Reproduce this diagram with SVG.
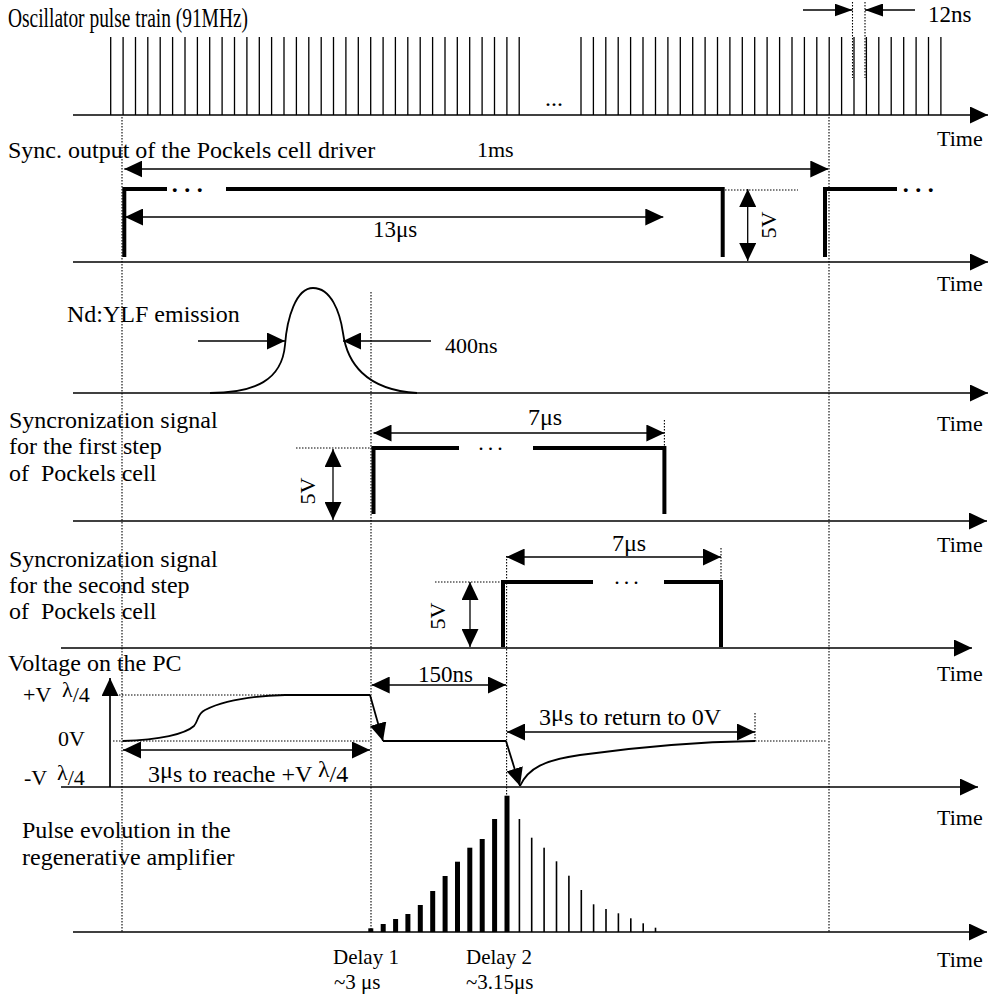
<svg xmlns="http://www.w3.org/2000/svg" width="989" height="994" viewBox="0 0 989 994">
<style>
text { font-family: "Liberation Serif", "Times New Roman", serif; fill: #000; }
.f21 { font-size: 21px; }
.f22 { font-size: 22px; }
.f23 { font-size: 23px; }
.f24 { font-size: 24px; }
.ax { stroke: #000; stroke-width: 1.7; fill: none; }
.tn { stroke: #000; stroke-width: 1.3; fill: none; }
.th { stroke: #000; stroke-width: 4; fill: none; stroke-linejoin: miter; }
.cv { stroke: #000; stroke-width: 1.8; fill: none; }
.dt { stroke: #000; stroke-width: 1.1; stroke-dasharray: 1.5 1.5; fill: none; }
.arr { marker-start: url(#ah); marker-end: url(#ah); }
.arre { marker-end: url(#ah); }
.arrs { marker-end: url(#ahs); }
.bd { font-weight: bold; }
</style>
<defs>
<marker id="ah" viewBox="0 0 18 17" refX="18" refY="8.5" markerWidth="18" markerHeight="17" markerUnits="userSpaceOnUse" orient="auto-start-reverse"><path d="M0,0 L18,8.5 L0,17 z" fill="#000"/></marker>
<marker id="ahs" viewBox="0 0 18 13" refX="18" refY="6.5" markerWidth="18" markerHeight="13" markerUnits="userSpaceOnUse" orient="auto-start-reverse"><path d="M0,0 L18,6.5 L0,13 z" fill="#000"/></marker>
</defs>

<g id="guides">
<path class="dt" d="M122,117 V932 M371,292 V932 M829,117 V932 M506.6,556 V796 M664.4,420 V448 M721,548 V582 M755,713 V741 M852.5,2 V78 M865,2 V78 M725,190 H798 M296,448 H372 M435,582 H502 M113,695 H370 M113,741 H370 M755,741 H827"/>
</g>

<g id="row-oscillator">
<text x="8" y="27" font-size="27" textLength="240" lengthAdjust="spacingAndGlyphs">Oscillator pulse train (91MHz)</text>
<path class="tn" d="M110.7,37V115 M123.1,37V115 M135.5,37V115 M147.8,37V115 M160.2,37V115 M172.6,37V115 M185,37V115 M197.4,37V115 M209.7,37V115 M222.1,37V115 M234.5,37V115 M246.9,37V115 M259.3,37V115 M271.6,37V115 M284,37V115 M296.4,37V115 M308.8,37V115 M321.2,37V115 M333.5,37V115 M345.9,37V115 M358.3,37V115 M370.7,37V115 M383.1,37V115 M395.4,37V115 M407.8,37V115 M420.2,37V115 M432.6,37V115 M445,37V115 M457.3,37V115 M469.7,37V115 M482.1,37V115 M494.5,37V115 M506.9,37V115 M519.2,37V115 M581,37V115 M593.4,37V115 M605.8,37V115 M618.2,37V115 M630.6,37V115 M643,37V115 M655.5,37V115 M667.9,37V115 M680.3,37V115 M692.7,37V115 M705.1,37V115 M717.5,37V115 M729.9,37V115 M742.3,37V115 M754.7,37V115 M767.1,37V115 M779.6,37V115 M792,37V115 M804.4,37V115 M816.8,37V115 M829.2,37V115 M841.6,37V115 M854,37V115 M866.4,37V115 M878.8,37V115 M891.2,37V115 M903.7,37V115 M916.1,37V115 M928.5,37V115 M940.9,37V115"/>
<text class="f24" x="545" y="106">...</text>
<line class="tn arrs" x1="803" y1="10" x2="852.5" y2="10"/>
<line class="tn arrs" x1="915" y1="10" x2="865" y2="10"/>
<text class="f23" x="928" y="22">12ns</text>
<line class="ax arre" x1="73" y1="115" x2="988" y2="115"/>
<text class="f22" x="937" y="146">Time</text>
</g>

<g id="row-sync-output">
<text class="f24" x="8" y="158">Sync. output of the Pockels cell driver</text>
<text class="f22" x="477" y="157">1ms</text>
<line class="tn arr" x1="124.3" y1="169" x2="828.3" y2="169"/>
<path class="th" d="M124.3,257 V189 H167 M226,189 H722.7 V257 M825,257 V189 H897"/>
<text class="f24 bd" x="171.8" y="192" letter-spacing="6.5">...</text>
<text class="f24 bd" x="902.7" y="192" letter-spacing="6.5">...</text>
<line class="tn arr" x1="125" y1="217" x2="663.3" y2="217"/>
<text class="f23" x="373" y="237">13μs</text>
<line class="tn arr" x1="747.7" y1="189" x2="747.7" y2="261"/>
<text class="f22" transform="translate(776,225) rotate(-90)" text-anchor="middle">5V</text>
<line class="ax arre" x1="73" y1="262" x2="988" y2="262"/>
<text class="f22" x="937" y="291">Time</text>
</g>

<g id="row-ndylf">
<text class="f24" x="67" y="322">Nd:YLF emission</text>
<path class="cv" d="M210,393 C255,393 282,380 285,345 C287,318 296,288 313,288 C331,288 340,312 343,333 C347,362 365,390 417,393"/>
<line class="tn arre" x1="198" y1="341" x2="285" y2="341"/>
<line class="tn arre" x1="431" y1="341" x2="343" y2="341"/>
<text class="f22" x="445" y="353">400ns</text>
<line class="ax arre" x1="73" y1="393" x2="988" y2="393"/>
<text class="f22" x="937" y="431">Time</text>
</g>

<g id="row-sync1">
<text class="f24" x="9" y="428">Syncronization signal</text>
<text class="f24" x="9" y="454">for the first step</text>
<text class="f24" x="9" y="481" xml:space="preserve">of  Pockels cell</text>
<line class="tn arr" x1="373.5" y1="433" x2="664.4" y2="433"/>
<text class="f24" x="528" y="425">7μs</text>
<path class="th" d="M373.5,514 V448 H459 M533,448 H664.4 V514"/>
<text class="f22" x="478.3" y="450" letter-spacing="4">...</text>
<line class="tn arr" x1="333" y1="449" x2="333" y2="520"/>
<text class="f22" transform="translate(315,491) rotate(-90)" text-anchor="middle">5V</text>
<line class="ax arre" x1="73" y1="521" x2="987" y2="521"/>
<text class="f22" x="937" y="552">Time</text>
</g>

<g id="row-sync2">
<text class="f24" x="9" y="567">Syncronization signal</text>
<text class="f24" x="9" y="593">for the second step</text>
<text class="f24" x="9" y="619" xml:space="preserve">of  Pockels cell</text>
<line class="tn arr" x1="506.6" y1="557" x2="721" y2="557"/>
<text class="f24" x="612" y="551">7μs</text>
<path class="th" d="M503,647 V582 H593 M664,582 H721 V647"/>
<text class="f22" x="614.3" y="584" letter-spacing="4">...</text>
<line class="tn arr" x1="470" y1="582" x2="470" y2="647"/>
<text class="f22" transform="translate(445,616) rotate(-90)" text-anchor="middle">5V</text>
<line class="ax arre" x1="61" y1="648" x2="972" y2="648"/>
<text class="f22" x="937" y="681">Time</text>
</g>

<g id="row-voltage">
<text class="f24" x="8" y="671">Voltage on the PC</text>
<text class="f22" x="23" y="702">+V<tspan x="62" dy="-5">λ</tspan><tspan dy="5">/4</tspan></text>
<text class="f22" x="58" y="746">0V</text>
<text class="f22" x="24" y="785">-V<tspan x="57" dy="-5">λ</tspan><tspan dy="5">/4</tspan></text>
<line class="ax arre" x1="110" y1="787" x2="110" y2="678"/>
<path class="cv" d="M123,741 C160,740 185,734 194,726 C199,720 197,714 205,710 C225,700 250,696 285,695 L370,695"/>
<line class="cv arre" x1="370" y1="695" x2="383" y2="741"/>
<path class="cv" d="M383,741 H506"/>
<line class="cv arre" x1="506" y1="741" x2="520" y2="786"/>
<path class="cv" d="M520,786 C528,768 545,760 580,755 C630,748 690,742 755,741"/>
<line class="tn arr" x1="123" y1="750" x2="370" y2="750"/>
<text class="f24" x="148" y="782">3<tspan dy="-4">μ</tspan><tspan dy="4">s to reache +V </tspan><tspan dy="-5">λ</tspan><tspan dy="5">/4</tspan></text>
<line class="tn arr" x1="371.7" y1="685" x2="506" y2="685"/>
<text class="f23" x="418" y="682">150ns</text>
<line class="tn arr" x1="507" y1="732" x2="755" y2="732"/>
<text class="f24" x="539" y="725">3<tspan dy="-4">μ</tspan><tspan dy="4">s to return to 0V</tspan></text>
<line class="ax arre" x1="61" y1="787" x2="978" y2="787"/>
<text class="f22" x="937" y="825">Time</text>
</g>

<g id="row-pulse-evolution">
<text class="f24" x="22" y="838">Pulse evolution in the</text>
<text class="f24" x="22" y="865">regenerative amplifier</text>
<g fill="#000">
<rect x="368.3" y="928.3" width="5" height="3.7"/>
<rect x="380.7" y="924" width="5" height="8"/>
<rect x="393.1" y="919" width="5" height="13"/>
<rect x="405.4" y="914" width="5" height="18"/>
<rect x="417.8" y="905" width="5" height="27"/>
<rect x="430.2" y="891" width="5" height="41"/>
<rect x="442.6" y="876" width="5" height="56"/>
<rect x="455" y="861.7" width="5" height="70.3"/>
<rect x="467.3" y="847.7" width="5" height="84.3"/>
<rect x="479.7" y="839" width="5" height="93"/>
<rect x="492.1" y="819" width="5" height="113"/>
<rect x="504.5" y="795.7" width="5" height="136.3"/>
<rect x="518.6" y="819" width="1.6" height="113"/>
<rect x="530.9" y="837.7" width="1.6" height="94.3"/>
<rect x="543.3" y="847.7" width="1.6" height="84.3"/>
<rect x="555.7" y="861.3" width="1.6" height="70.7"/>
<rect x="568.1" y="875.7" width="1.6" height="56.3"/>
<rect x="580.5" y="890" width="1.6" height="42"/>
<rect x="592.8" y="904.3" width="1.6" height="27.7"/>
<rect x="605.2" y="909" width="1.6" height="23"/>
<rect x="617.6" y="913.3" width="1.6" height="18.7"/>
<rect x="630" y="918.3" width="1.6" height="13.7"/>
<rect x="642.4" y="923.3" width="1.6" height="8.7"/>
<rect x="654.7" y="927.7" width="1.6" height="4.3"/>
</g>
<line class="ax arre" x1="73" y1="932" x2="987" y2="932"/>
<text class="f21" x="333" y="964">Delay 1</text>
<text class="f21" x="334" y="989">~3 μs</text>
<text class="f21" x="466" y="964">Delay 2</text>
<text class="f21" x="466" y="989">~3.15μs</text>
<text class="f22" x="937" y="967">Time</text>
</g>
</svg>
